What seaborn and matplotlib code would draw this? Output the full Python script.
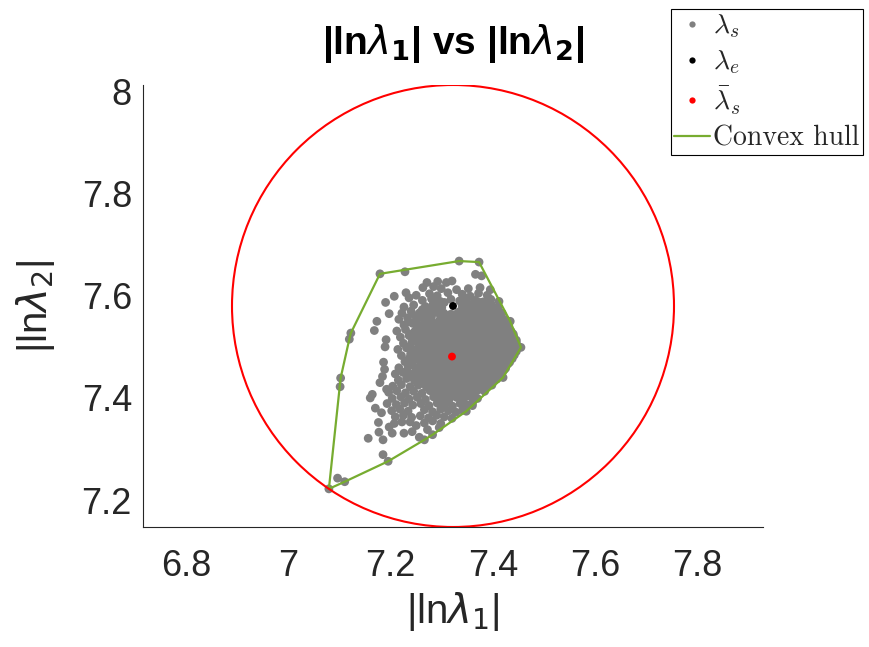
import numpy as np
import pandas as pd
import matplotlib
matplotlib.use("Agg")
import matplotlib.pyplot as plt
from matplotlib.lines import Line2D
from matplotlib.patches import Circle
import seaborn as sns

# ---- data: eigenvalue samples (|ln lambda_1|, |ln lambda_2|) ----
sample_x = [
    7.271, 7.292, 7.309, 7.320,
    7.263, 7.284, 7.299, 7.329, 7.352, 7.375, 7.395,
    7.230, 7.250, 7.276, 7.291, 7.312, 7.340, 7.356, 7.372, 7.389,
    7.236, 7.262, 7.280, 7.297, 7.318, 7.335, 7.349, 7.366, 7.381, 7.396,
    7.226, 7.245, 7.268, 7.283, 7.300, 7.340, 7.354, 7.368, 7.384, 7.397, 7.410,
    7.222, 7.240, 7.257, 7.271, 7.288, 7.304, 7.318, 7.333, 7.347, 7.362, 7.376, 7.390, 7.404, 7.418,
    7.216, 7.233, 7.251, 7.265, 7.279, 7.296, 7.310, 7.324, 7.338, 7.353, 7.367, 7.382, 7.395, 7.409, 7.425,
    7.226, 7.243, 7.258, 7.273, 7.286, 7.301, 7.316, 7.330, 7.345, 7.359, 7.373, 7.387, 7.401, 7.415, 7.430,
    7.212, 7.229, 7.247, 7.262, 7.277, 7.292, 7.307, 7.321, 7.336, 7.350, 7.365, 7.379, 7.393, 7.407, 7.421, 7.436,
    7.219, 7.236, 7.253, 7.268, 7.283, 7.298, 7.313, 7.327, 7.341, 7.356, 7.370, 7.384, 7.398, 7.412, 7.426, 7.441,
    7.225, 7.242, 7.258, 7.273, 7.288, 7.303, 7.318, 7.333, 7.347, 7.361, 7.376, 7.390, 7.404, 7.418, 7.432, 7.446,
    7.214, 7.231, 7.248, 7.263, 7.279, 7.294, 7.309, 7.324, 7.339, 7.353, 7.367, 7.381, 7.395, 7.409, 7.423, 7.437, 7.450,
    7.221, 7.239, 7.255, 7.270, 7.285, 7.300, 7.315, 7.330, 7.344, 7.358, 7.372, 7.386, 7.400, 7.414, 7.428, 7.442,
    7.228, 7.245, 7.261, 7.276, 7.291, 7.306, 7.321, 7.336, 7.350, 7.364, 7.378, 7.392, 7.406, 7.420, 7.433,
    7.216, 7.234, 7.251, 7.267, 7.282, 7.297, 7.312, 7.327, 7.342, 7.356, 7.370, 7.384, 7.398, 7.412, 7.425,
    7.209, 7.224, 7.241, 7.257, 7.273, 7.288, 7.303, 7.318, 7.333, 7.348, 7.362, 7.376, 7.390, 7.404, 7.416,
    7.215, 7.231, 7.247, 7.263, 7.279, 7.294, 7.309, 7.324, 7.339, 7.353, 7.367, 7.381, 7.395, 7.408,
    7.204, 7.221, 7.238, 7.254, 7.270, 7.285, 7.300, 7.315, 7.330, 7.345, 7.359, 7.373, 7.387, 7.398,
    7.196, 7.212, 7.229, 7.245, 7.261, 7.277, 7.292, 7.307, 7.322, 7.337, 7.351, 7.365, 7.384,
    7.203, 7.220, 7.236, 7.252, 7.268, 7.284, 7.299, 7.314, 7.329, 7.343, 7.357, 7.370,
    7.211, 7.227, 7.243, 7.259, 7.275, 7.291, 7.306, 7.321, 7.336, 7.350, 7.360,
    7.202, 7.218, 7.234, 7.266, 7.282, 7.298, 7.313, 7.328, 7.341,
    7.209, 7.225, 7.241, 7.258, 7.274, 7.290, 7.305, 7.320,
    7.238, 7.266, 7.282, 7.298,
    7.272, 7.295,
    # dense centre, interleaved rows
    7.290, 7.305, 7.345, 7.360, 7.374, 7.390,
    7.262, 7.277, 7.292, 7.340, 7.355, 7.370, 7.385, 7.400,
    7.248, 7.264, 7.280, 7.296, 7.311, 7.326, 7.341, 7.356, 7.370, 7.384, 7.398, 7.412,
    7.235, 7.266, 7.282, 7.297, 7.312, 7.327, 7.342, 7.356, 7.370, 7.384, 7.398, 7.412, 7.424,
    7.252, 7.268, 7.284, 7.299, 7.314, 7.328, 7.343, 7.357, 7.372, 7.386, 7.400, 7.414, 7.428,
    7.238, 7.255, 7.270, 7.285, 7.300, 7.314, 7.329, 7.344, 7.358, 7.372, 7.386, 7.400, 7.414, 7.428, 7.440,
    7.245, 7.261, 7.276, 7.291, 7.306, 7.320, 7.335, 7.350, 7.364, 7.378, 7.392, 7.406, 7.420, 7.434, 7.446,
    7.238, 7.255, 7.271, 7.286, 7.301, 7.316, 7.331, 7.346, 7.360, 7.374, 7.388, 7.402, 7.416, 7.430, 7.444,
    7.245, 7.262, 7.277, 7.292, 7.307, 7.337, 7.351, 7.365, 7.379, 7.393, 7.407, 7.421, 7.435, 7.446,
    7.236, 7.252, 7.268, 7.283, 7.298, 7.313, 7.328, 7.343, 7.357, 7.371, 7.385, 7.399, 7.413, 7.427, 7.438,
    7.243, 7.259, 7.274, 7.289, 7.304, 7.319, 7.334, 7.349, 7.363, 7.377, 7.391, 7.405, 7.419, 7.430,
    7.232, 7.249, 7.265, 7.280, 7.295, 7.310, 7.325, 7.340, 7.355, 7.369, 7.383, 7.397, 7.411, 7.422,
    7.239, 7.255, 7.271, 7.286, 7.301, 7.316, 7.331, 7.346, 7.360, 7.374, 7.388, 7.402, 7.414,
    7.262, 7.277, 7.292, 7.307, 7.322, 7.337, 7.352, 7.366, 7.380, 7.394,
    7.284, 7.299, 7.314, 7.329, 7.344, 7.358, 7.372,
    7.306, 7.321, 7.336, 7.350,
    # sparse samples around the core
    7.179, 7.228, 7.334, 7.373, 7.366, 7.378,
    7.207, 7.190, 7.197, 7.173, 7.168, 7.191, 7.189, 7.188,
    7.122, 7.119, 7.102, 7.101, 7.164, 7.160, 7.179, 7.182, 7.193,
    7.177, 7.185, 7.156, 7.185, 7.195, 7.096, 7.110, 7.079,
    7.207, 7.222, 7.197, 7.203, 7.226, 7.242, 7.256, 7.250,
    7.266, 7.282, 7.348, 7.360, 7.420, 7.455, 7.434, 7.412,
    7.184, 7.176, 7.192, 7.170, 7.186,
]
sample_y = [
    7.626, 7.628, 7.626, 7.629,
    7.616, 7.618, 7.614, 7.612, 7.614, 7.616, 7.612,
    7.606, 7.601, 7.604, 7.600, 7.606, 7.603, 7.599, 7.605, 7.601,
    7.596, 7.591, 7.594, 7.589, 7.593, 7.590, 7.595, 7.591, 7.588, 7.593,
    7.578, 7.582, 7.579, 7.583, 7.577, 7.581, 7.578, 7.582, 7.579, 7.583, 7.577,
    7.566, 7.570, 7.567, 7.565, 7.569, 7.566, 7.564, 7.568, 7.571, 7.566, 7.569, 7.565, 7.568, 7.566,
    7.554, 7.557, 7.553, 7.558, 7.555, 7.552, 7.557, 7.554, 7.558, 7.553, 7.556, 7.559, 7.554, 7.557, 7.553,
    7.543, 7.546, 7.541, 7.545, 7.542, 7.547, 7.543, 7.540, 7.545, 7.542, 7.546, 7.543, 7.541, 7.546, 7.543,
    7.531, 7.534, 7.530, 7.533, 7.529, 7.532, 7.535, 7.531, 7.528, 7.533, 7.530, 7.534, 7.531, 7.529, 7.533, 7.530,
    7.519, 7.522, 7.518, 7.521, 7.517, 7.522, 7.519, 7.516, 7.521, 7.518, 7.522, 7.519, 7.517, 7.521, 7.518, 7.520,
    7.507, 7.510, 7.506, 7.509, 7.505, 7.510, 7.507, 7.504, 7.509, 7.506, 7.510, 7.507, 7.505, 7.509, 7.506, 7.508,
    7.495, 7.498, 7.494, 7.497, 7.493, 7.498, 7.495, 7.492, 7.497, 7.494, 7.498, 7.495, 7.493, 7.497, 7.494, 7.496, 7.499,
    7.483, 7.486, 7.482, 7.485, 7.481, 7.486, 7.483, 7.480, 7.485, 7.482, 7.486, 7.483, 7.481, 7.485, 7.482, 7.484,
    7.471, 7.474, 7.470, 7.473, 7.469, 7.474, 7.471, 7.468, 7.473, 7.470, 7.474, 7.471, 7.469, 7.473, 7.470,
    7.459, 7.462, 7.458, 7.461, 7.457, 7.462, 7.459, 7.456, 7.461, 7.458, 7.462, 7.459, 7.457, 7.461, 7.458,
    7.447, 7.450, 7.446, 7.449, 7.445, 7.450, 7.447, 7.444, 7.449, 7.446, 7.450, 7.447, 7.445, 7.449, 7.446,
    7.435, 7.438, 7.434, 7.437, 7.433, 7.438, 7.435, 7.432, 7.437, 7.434, 7.438, 7.435, 7.433, 7.437,
    7.423, 7.426, 7.422, 7.425, 7.421, 7.426, 7.423, 7.420, 7.425, 7.422, 7.426, 7.423, 7.421, 7.425,
    7.411, 7.414, 7.410, 7.413, 7.409, 7.414, 7.411, 7.408, 7.413, 7.410, 7.414, 7.411, 7.413,
    7.399, 7.402, 7.398, 7.401, 7.397, 7.402, 7.399, 7.396, 7.401, 7.398, 7.402, 7.399,
    7.387, 7.390, 7.386, 7.389, 7.385, 7.390, 7.387, 7.384, 7.389, 7.386, 7.389,
    7.375, 7.378, 7.374, 7.377, 7.373, 7.378, 7.375, 7.372, 7.376,
    7.363, 7.366, 7.362, 7.365, 7.361, 7.366, 7.363, 7.360,
    7.353, 7.351, 7.355, 7.350,
    7.338, 7.342,
    # dense centre, interleaved rows
    7.585, 7.587, 7.586, 7.584, 7.587, 7.585,
    7.573, 7.575, 7.572, 7.576, 7.573, 7.575, 7.572, 7.574,
    7.561, 7.563, 7.560, 7.564, 7.561, 7.563, 7.560, 7.562, 7.564, 7.561, 7.563, 7.560,
    7.549, 7.551, 7.548, 7.552, 7.549, 7.551, 7.548, 7.550, 7.552, 7.549, 7.551, 7.548, 7.550,
    7.537, 7.539, 7.536, 7.540, 7.537, 7.539, 7.536, 7.538, 7.540, 7.537, 7.539, 7.536, 7.538,
    7.525, 7.527, 7.524, 7.528, 7.525, 7.527, 7.524, 7.526, 7.528, 7.525, 7.527, 7.524, 7.526, 7.528, 7.525,
    7.513, 7.515, 7.512, 7.516, 7.513, 7.515, 7.512, 7.514, 7.516, 7.513, 7.515, 7.512, 7.514, 7.516, 7.513,
    7.501, 7.503, 7.500, 7.504, 7.501, 7.503, 7.500, 7.502, 7.504, 7.501, 7.503, 7.500, 7.502, 7.504, 7.501,
    7.489, 7.491, 7.488, 7.492, 7.489, 7.491, 7.488, 7.490, 7.492, 7.489, 7.491, 7.488, 7.490, 7.491,
    7.477, 7.479, 7.476, 7.480, 7.477, 7.479, 7.476, 7.478, 7.480, 7.477, 7.479, 7.476, 7.478, 7.480, 7.477,
    7.465, 7.467, 7.464, 7.468, 7.465, 7.467, 7.464, 7.466, 7.468, 7.465, 7.467, 7.464, 7.466, 7.467,
    7.453, 7.455, 7.452, 7.456, 7.453, 7.455, 7.452, 7.454, 7.456, 7.453, 7.455, 7.452, 7.454, 7.455,
    7.441, 7.443, 7.440, 7.444, 7.441, 7.443, 7.440, 7.442, 7.444, 7.441, 7.443, 7.440, 7.442,
    7.429, 7.431, 7.428, 7.432, 7.429, 7.431, 7.428, 7.430, 7.432, 7.429,
    7.417, 7.419, 7.416, 7.420, 7.417, 7.419, 7.416,
    7.405, 7.407, 7.404, 7.406,
    # sparse samples around the core
    7.643, 7.647, 7.668, 7.666, 7.642, 7.639,
    7.599, 7.587, 7.565, 7.550, 7.532, 7.514, 7.500, 7.456,
    7.527, 7.515, 7.439, 7.422, 7.407, 7.400, 7.430, 7.371, 7.389,
    7.333, 7.318, 7.321, 7.289, 7.276, 7.243, 7.236, 7.222,
    7.350, 7.353, 7.343, 7.331, 7.331, 7.334, 7.323, 7.346,
    7.318, 7.328, 7.374, 7.385, 7.440, 7.499, 7.550, 7.589,
    7.442, 7.352, 7.417, 7.380, 7.470,
]

# experimental eigenvalue and sample mean
lambda_e = (7.322, 7.580)
lambda_s_mean = (7.320, 7.481)

x_ticks = [6.8, 7.0, 7.2, 7.4, 7.6, 7.8]
y_ticks = [7.2, 7.4, 7.6, 7.8, 8.0]

samples = pd.DataFrame({"l1": sample_x, "l2": sample_y})


def convex_hull(points):
    """Monotone chain hull, returned closed."""
    pts = sorted(set(points))
    def cross(o, a, b):
        return (a[0] - o[0]) * (b[1] - o[1]) - (a[1] - o[1]) * (b[0] - o[0])
    lower, upper = [], []
    for p in pts:
        while len(lower) >= 2 and cross(lower[-2], lower[-1], p) <= 0:
            lower.pop()
        lower.append(p)
    for p in reversed(pts):
        while len(upper) >= 2 and cross(upper[-2], upper[-1], p) <= 0:
            upper.pop()
        upper.append(p)
    hull = lower[:-1] + upper[:-1]
    return hull + [hull[0]]


hull = convex_hull(list(zip(sample_x, sample_y)))
hull_df = pd.DataFrame(hull, columns=["l1", "l2"])

# enclosing circle centred on lambda_e
dist = np.hypot(samples["l1"] - lambda_e[0], samples["l2"] - lambda_e[1])
radius = dist.max()

sns.set_theme(style="white")
plt.rcParams["mathtext.fontset"] = "cm"
plt.rcParams["font.family"] = ["Liberation Sans", "DejaVu Sans"]

W, H = 870, 647
fig = plt.figure(figsize=(W / 100, H / 100), dpi=100)
ax = fig.add_axes([143 / W, (H - 527) / H, 620 / W, 442 / H])

gray = "#808080"
green = "#77AC30"

sns.scatterplot(data=samples, x="l1", y="l2", ax=ax, color=gray, s=40,
                edgecolor="none", linewidth=0, legend=False, zorder=2)
sns.lineplot(data=hull_df, x="l1", y="l2", ax=ax, sort=False, estimator=None,
             color=green, linewidth=1.6, zorder=3)
ax.scatter([lambda_e[0]], [lambda_e[1]], color="black", s=32, edgecolor="none", zorder=4)
ax.scatter([lambda_s_mean[0]], [lambda_s_mean[1]], color="red", s=32, edgecolor="none", zorder=4)
ax.add_patch(Circle(lambda_e, radius, fill=False, edgecolor="red", linewidth=1.5, zorder=3))

# equal scaling: y spans the circle, x follows the box aspect
y_lo, y_hi = lambda_e[1] - radius, lambda_e[1] + radius
half_w = radius * 620 / 442
ax.set_xlim(lambda_e[0] - half_w, lambda_e[0] + half_w)
ax.set_ylim(y_lo, y_hi)

ax.set_xticks(x_ticks)
ax.set_yticks(y_ticks)
ax.set_xticklabels([f"{v:g}" for v in x_ticks])
ax.set_yticklabels([f"{v:g}" for v in y_ticks])

for side in ["top", "right"]:
    ax.spines[side].set_visible(False)
for side in ["left", "bottom"]:
    ax.spines[side].set_color("#262626")
    ax.spines[side].set_linewidth(0.8)
ax.tick_params(axis="both", direction="in", length=5, width=0.8, color="#262626",
               labelcolor="#262626", labelsize=26)
ax.tick_params(axis="x", pad=16)
ax.tick_params(axis="y", pad=8)

ax.set_xlabel(r"|ln$\lambda_1$|", fontsize=29, color="#262626", labelpad=4,
              math_fontfamily="dejavusans")
ax.set_ylabel(r"|ln$\lambda_2$|", fontsize=29, color="#262626", labelpad=18,
              math_fontfamily="dejavusans")
ax.set_title(r"|ln$\lambda_\mathbf{1}$| vs |ln$\lambda_\mathbf{2}$|", fontsize=28,
             fontweight="bold", color="black", pad=22, math_fontfamily="dejavusans")

handles = [
    Line2D([], [], linestyle="none", marker="o", markersize=4.5, color=gray, markeredgewidth=0),
    Line2D([], [], linestyle="none", marker="o", markersize=4.5, color="black", markeredgewidth=0),
    Line2D([], [], linestyle="none", marker="o", markersize=4.5, color="red", markeredgewidth=0),
    Line2D([], [], color=green, linewidth=1.6),
]
labels = [r"$\lambda_s$", r"$\lambda_e$", r"$\bar{\lambda}_s$", "Convex hull"]
leg = fig.legend(handles, labels, loc="upper left",
                 bbox_to_anchor=(671 / W, 1 - 9 / H), bbox_transform=fig.transFigure,
                 prop={"family": "cmr10", "size": 20}, frameon=True, fancybox=False,
                 framealpha=1, edgecolor="black", borderpad=0.12, labelspacing=0.3,
                 handlelength=1.3, handletextpad=0.1, borderaxespad=0)
leg.get_frame().set_linewidth(0.8)

fig.savefig("out.png", dpi=100)
